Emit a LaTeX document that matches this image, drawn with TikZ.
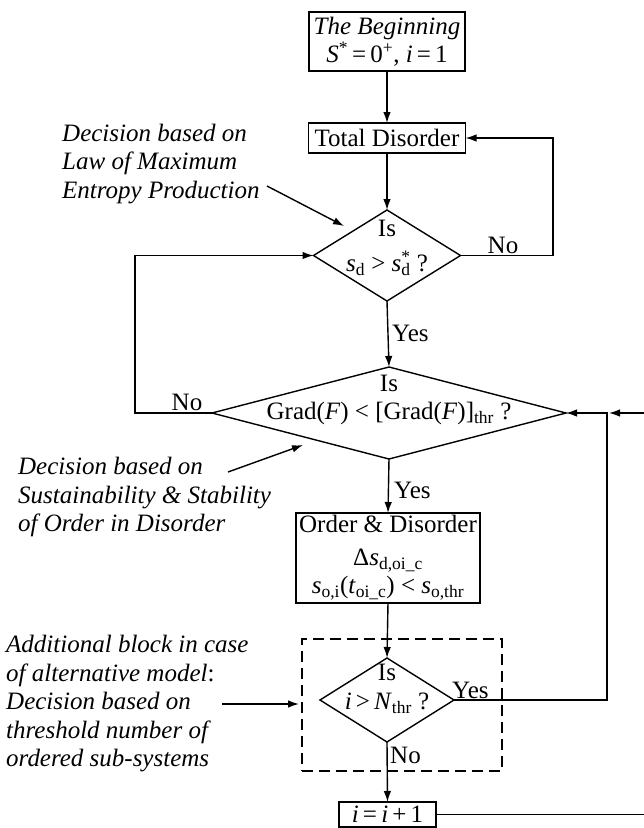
\documentclass[tikz,border=0pt]{standalone}
\usepackage{fontspec}
\setmainfont{Liberation Serif}
\usetikzlibrary{shapes.geometric,arrows.meta}
\newcommand{\myfs}{\fontsize{25}{28.5}\selectfont}
\newcommand{\sbs}[1]{\textsubscript{#1}}
\newcommand{\sps}[1]{\textsuperscript{#1}}
\begin{document}
\begin{tikzpicture}[x=1pt,y=-1pt,
  arr/.style={line width=1.4pt,-{Latex[length=11pt,width=7.5pt]}},
  box/.style={draw,line width=1.4pt,inner sep=0pt,outer sep=0pt,align=center,font=\myfs},
  dia/.style={draw,diamond,line width=1.4pt,inner sep=0pt,outer sep=0pt},
  txt/.style={inner sep=0pt,align=center,font=\myfs},
  anno/.style={inner sep=0pt,align=left,font=\myfs\itshape},
  dbox/.style={draw,line width=1.4pt,dash pattern=on 11pt off 6pt,inner sep=0pt,outer sep=0pt}]
\useasboundingbox (0,0) rectangle (644,828);

% main column
\node[box,minimum width=156pt,minimum height=59pt] (begin) at (387,41.5)
  {\textit{The Beginning}\\\textit{S}\sps{*}\,=\,0\sps{+}, \textit{i}\,=\,1};
\node[box,minimum width=157pt,minimum height=30pt] (td) at (387,138) {Total Disorder};
\node[dia,minimum width=147pt,minimum height=91pt] (d1) at (387,255.5) {};
\node[txt] (d1t) at (387,248) {Is\\[6pt]\textit{s}\sbs{d} > \textit{s}\makebox[0pt][l]{\sps{*}}\sbs{d} ?};
\node[dia,minimum width=354pt,minimum height=92pt] (d2) at (389,413) {};
\node[txt] (d2t) at (389,400) {Is\\Grad(\textit{F}) < [Grad(\textit{F})]\sbs{thr} ?};
\node[box,minimum width=184pt,minimum height=90pt] (od) at (388,558)
  {Order \& Disorder\\[4pt]Δ\textit{s}\sbs{d,oi\_c}\\\textit{s}\sbs{o,i}(\textit{t}\sbs{oi\_c}) < \textit{s}\sbs{o,thr}};
\node[dbox,minimum width=200pt,minimum height=132pt] (db) at (402,705) {};
\node[dia,minimum width=134pt,minimum height=84pt] (sd) at (387,700) {};
\node[txt] (sdt) at (387,689) {Is\\\textit{i}\,>\,\textit{N}\sbs{thr} ?};
\node[box,minimum width=97pt,minimum height=25pt] (inc) at (387.5,814.5) {\textit{i}\,=\,\textit{i}\,+\,1};

% labels
\node[txt,anchor=west] (y1) at (392,333) {Yes};
\node[txt] (n1) at (503,245) {No};
\node[txt] (n2) at (187,402) {No};
\node[txt,anchor=west] (y2) at (394,490) {Yes};
\node[txt,anchor=west] (y3) at (452,690) {Yes};
\node[txt,anchor=west] (n3) at (390,755) {No};

% annotations
\node[anno,anchor=west] (a1) at (62,164) {Decision based on\\Law of Maximum\\Entropy Production};
\node[anno,anchor=west] (a2) at (18,497) {Decision based on\\Sustainability \& Stability\\of Order in Disorder};
\node[anno,anchor=west] (a3) at (6,704) {Additional block in case\\of alternative model\upshape:\\Decision based on\\threshold number of\\ordered sub-systems};

% main arrows
\draw[arr] (begin) -- (td);
\draw[arr] (td) -- (d1);
\draw[arr] (d1.south) -- (d2.north);
\draw[arr] (d2.south) -- (od.north);
\draw[arr] (od.south) -- (sd.north);
\draw[arr] (sd.south) -- (inc.north);

% loops
\coordinate (r1) at (553,255.5);
\draw[arr] (d1.east) -- (r1) |- (td.east);
\coordinate (l1) at (135,413);
\draw[arr] (d2.west) -- (l1) |- (d1.west);
\coordinate (j) at (607,413);
\coordinate (r2) at (607,700);
\draw[arr] (sd.east) -- (r2) -- (j) -- (d2.east);
\coordinate (r3) at (646,814.5);
\coordinate (j2) at (609,413);
\draw[arr] (inc.east) -- (r3) |- (j2);

% annotation arrows
\coordinate (a1s) at (267,186);
\coordinate (a1e) at (344,226);
\draw[arr] (a1s) -- (a1e);
\coordinate (a2s) at (228,472);
\coordinate (a2e) at (303,445);
\draw[arr] (a2s) -- (a2e);
\coordinate (a3s) at (222,704);
\coordinate (a3e) at (299,704);
\draw[arr] (a3s) -- (a3e);
\end{tikzpicture}
\end{document}
